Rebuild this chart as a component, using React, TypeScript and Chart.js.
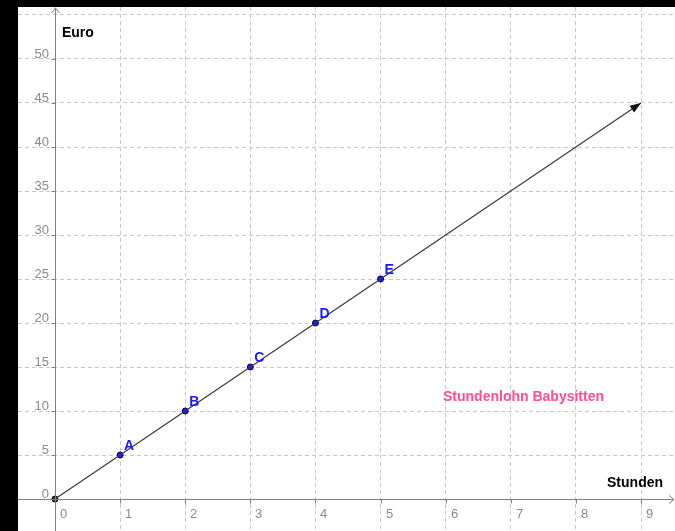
import React, { useEffect, useRef } from "react";
import { Chart, registerables } from "chart.js";

Chart.register(...registerables);

// ---- data ----
const pointNames = ["A", "B", "C", "D", "E"];
const hours = [1, 2, 3, 4, 5];
const euros = [5, 10, 15, 20, 25];
const lineStart = [0, 0];
const lineEnd = [9, 45];
const xTickValues = [0, 1, 2, 3, 4, 5, 6, 7, 8, 9];
const yTickValues = [0, 5, 10, 15, 20, 25, 30, 35, 40, 45, 50];
const xAxisTitle = "Stunden";
const yAxisTitle = "Euro";
const caption = "Stundenlohn Babysitten";

const AXIS = "#808080";
const GRID = "#c8c8c8";
const TICKTXT = "#8a8a8a";
const BLUE = "#1a1aff";
const PINK = "#ff4d94";

const overlay = {
  id: "geoOverlay",
  afterDatasetsDraw(chart: any) {
    const { ctx, chartArea } = chart;
    const xs = chart.scales.x;
    const ys = chart.scales.y;
    const ox = Math.round(xs.getPixelForValue(0)) + 0.5;
    const oy = Math.round(ys.getPixelForValue(0)) + 0.5;
    ctx.save();
    // axes
    ctx.strokeStyle = AXIS;
    ctx.lineWidth = 1;
    ctx.beginPath();
    ctx.moveTo(chartArea.left, oy);
    ctx.lineTo(chartArea.right - 1, oy);
    ctx.moveTo(ox, chartArea.bottom);
    ctx.lineTo(ox, chartArea.top + 1);
    ctx.stroke();
    // arrow chevrons
    ctx.beginPath();
    ctx.moveTo(chartArea.right - 6, oy - 4);
    ctx.lineTo(chartArea.right - 1, oy);
    ctx.lineTo(chartArea.right - 6, oy + 4);
    ctx.moveTo(ox - 4, chartArea.top + 6);
    ctx.lineTo(ox, chartArea.top + 1);
    ctx.lineTo(ox + 4, chartArea.top + 6);
    ctx.stroke();
    // tick marks + labels
    ctx.font = "13px 'Liberation Sans', Arial, sans-serif";
    ctx.fillStyle = TICKTXT;
    ctx.textAlign = "left";
    ctx.textBaseline = "alphabetic";
    xTickValues.forEach((v) => {
      const px = Math.round(xs.getPixelForValue(v)) + 0.5;
      if (v !== 0) {
        ctx.beginPath();
        ctx.moveTo(px, oy);
        ctx.lineTo(px, oy + 4);
        ctx.stroke();
      }
      ctx.fillText(String(v), px + 4.5, oy + 18);
    });
    ctx.textAlign = "right";
    yTickValues.forEach((v) => {
      const py = Math.round(ys.getPixelForValue(v)) + 0.5;
      if (v !== 0) {
        ctx.beginPath();
        ctx.moveTo(ox - 4, py);
        ctx.lineTo(ox, py);
        ctx.stroke();
      }
      ctx.fillText(String(v), ox - 6.5, py - 2);
    });
    // arrowhead on the line
    const x0 = xs.getPixelForValue(lineStart[0]);
    const y0 = ys.getPixelForValue(lineStart[1]);
    const x1 = xs.getPixelForValue(lineEnd[0]);
    const y1 = ys.getPixelForValue(lineEnd[1]);
    const ang = Math.atan2(y1 - y0, x1 - x0);
    const L = 11, W = 4;
    ctx.fillStyle = "#111";
    ctx.beginPath();
    ctx.moveTo(x1, y1);
    ctx.lineTo(x1 - L * Math.cos(ang) + W * Math.sin(ang), y1 - L * Math.sin(ang) - W * Math.cos(ang));
    ctx.lineTo(x1 - L * Math.cos(ang) - W * Math.sin(ang), y1 - L * Math.sin(ang) + W * Math.cos(ang));
    ctx.closePath();
    ctx.fill();
    // point labels
    ctx.font = "bold 14px 'Liberation Sans', Arial, sans-serif";
    ctx.fillStyle = BLUE;
    ctx.textAlign = "left";
    pointNames.forEach((n, i) => {
      const px = xs.getPixelForValue(hours[i]);
      const py = ys.getPixelForValue(euros[i]);
      ctx.fillText(n, px + 4, py - 5);
    });
    // titles
    ctx.fillStyle = "#000";
    ctx.fillText(yAxisTitle, xs.getPixelForValue(0.107), ys.getPixelForValue(52.5));
    ctx.fillText(xAxisTitle, xs.getPixelForValue(8.478), ys.getPixelForValue(1.36));
    ctx.fillStyle = PINK;
    ctx.fillText(caption, xs.getPixelForValue(5.959), ys.getPixelForValue(11.14));
    ctx.restore();
  },
};

export default function App() {
  const ref = useRef<HTMLCanvasElement>(null);
  useEffect(() => {
    document.body.style.margin = "0";
    const chart = new Chart(ref.current!, {
      type: "scatter",
      data: {
        datasets: [
          {
            data: [
              { x: lineStart[0], y: lineStart[1] },
              { x: lineEnd[0], y: lineEnd[1] },
            ],
            showLine: true,
            borderColor: "#3a3a3a",
            borderWidth: 1.2,
            pointRadius: 0,
          },
          {
            data: hours.map((h, i) => ({ x: h, y: euros[i] })),
            backgroundColor: BLUE,
            borderColor: "#000060",
            borderWidth: 1,
            pointRadius: 3,
          },
          {
            data: [{ x: lineStart[0], y: lineStart[1] }],
            backgroundColor: "#333",
            borderColor: "#000",
            borderWidth: 1,
            pointRadius: 3,
          },
        ],
      },
      options: {
        responsive: false,
        animation: false,
        layout: { padding: 0, autoPadding: false },
        plugins: { legend: { display: false }, tooltip: { enabled: false } },
        scales: {
          x: {
            type: "linear",
            min: -0.5683,
            max: 9.522,
            ticks: { display: false, stepSize: 1, includeBounds: false },
            grid: { color: GRID, lineWidth: 1, drawTicks: false },
            border: { display: false, dash: [4, 3] },
          },
          y: {
            type: "linear",
            min: -3.636,
            max: 55.909,
            ticks: { display: false, stepSize: 5, includeBounds: false },
            grid: { color: GRID, lineWidth: 1, drawTicks: false },
            border: { display: false, dash: [4, 3] },
          },
        },
      },
      plugins: [overlay],
    });
    return () => chart.destroy();
  }, []);
  return (
    <div style={{ position: "fixed", left: 0, top: 0, width: 675, height: 531, background: "#000" }}>
      <div style={{ position: "absolute", left: 18, top: 7, width: 657, height: 524, background: "#fff" }}>
        <canvas ref={ref} width={657} height={524} style={{ display: "block" }} />
      </div>
    </div>
  );
}
